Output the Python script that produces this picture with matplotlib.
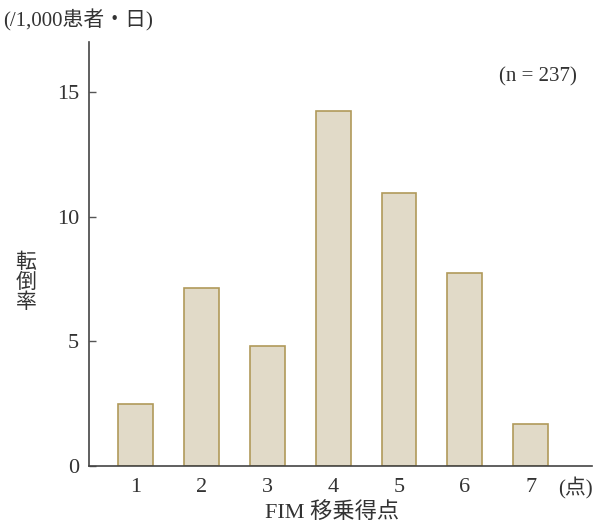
import matplotlib
matplotlib.use("Agg")
import matplotlib.pyplot as plt

categories = [1, 2, 3, 4, 5, 6, 7]
tick_labels = ["1", "2", "3", "4", "5", "6", "7"]
values = [2.5, 7.15, 4.8, 14.25, 10.95, 7.75, 1.7]
yticks = [0, 5, 10, 15]

FONT = ["Liberation Serif", "Noto Sans CJK JP", "DejaVu Serif"]
plt.rcParams['font.family'] = FONT
TXT = "#333333"

fig = plt.figure(figsize=(5.94, 5.26), dpi=100)
ax = fig.add_axes([89/594, 1-466/526, (592-89)/594, (466-42)/526])

ax.bar(categories, values, width=0.53, color="#e1dac8", edgecolor="#b09a5a", linewidth=1.2)

ax.set_xlim(0.293, 7.93)
ax.set_ylim(0, 17)
ax.set_yticks(yticks)
ax.set_yticklabels([str(v) for v in yticks], fontsize=16, color=TXT)
ax.set_xticks(categories)
ax.set_xticklabels(tick_labels, fontsize=16, color=TXT)
ax.tick_params(axis="y", direction="in", length=5, width=1, color="#555555", pad=7)
ax.tick_params(axis="x", length=0, pad=9)

for s in ["top", "right"]:
    ax.spines[s].set_visible(False)
for s in ["left", "bottom"]:
    ax.spines[s].set_color("#444444")
    ax.spines[s].set_linewidth(1.2)

fig.text(593/594, 1-488/526, "(点)", fontsize=15, color=TXT, ha="right", va="center", family=FONT)
fig.text(332/594, 1-512/526, "FIM 移乗得点", fontsize=16, color=TXT, ha="center", va="center", family=FONT)
fig.text(3/594, 1-20/526, "(/1,000患者・日)", fontsize=15, color=TXT, ha="left", va="center", family=FONT)
fig.text(26/594, 1-283/526, "転\n倒\n率", fontsize=15, color=TXT, ha="center", va="center", linespacing=1.05, family=FONT)
fig.text(577/594, 1-77/526, "(n = 237)", fontsize=15, color=TXT, ha="right", va="center", family=FONT)

fig.savefig("out.png", dpi=100)
